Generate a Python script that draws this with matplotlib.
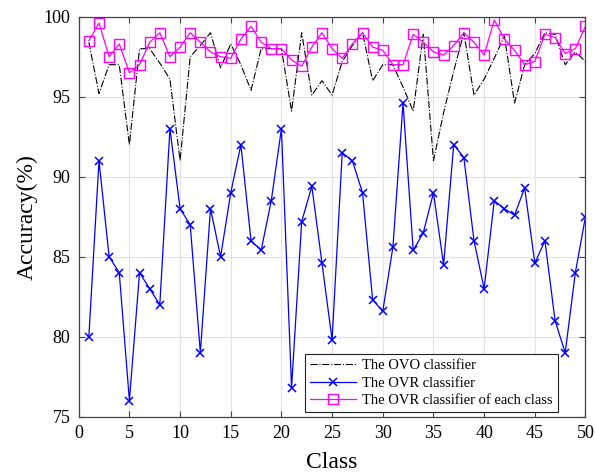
import matplotlib
matplotlib.use("Agg")
import matplotlib.pyplot as plt
import numpy as np

plt.rcParams['font.family'] = ['Liberation Serif', 'DejaVu Serif']
plt.rcParams['mathtext.fontset'] = 'stix'

classes = np.arange(1, 51)

ovo_acc = [98.4, 95.2, 97.0, 97.0, 92.0, 98.0, 98.0, 97.1, 96.1, 91.0,
           97.5, 98.2, 99.0, 96.8, 98.3, 97.0, 95.4, 98.0, 98.0, 98.0,
           94.1, 99.0, 95.1, 96.0, 95.1, 97.2, 98.2, 99.0, 96.0, 97.0,
           97.0, 95.6, 94.1, 98.9, 91.0, 94.0, 96.6, 99.0, 95.1, 96.1,
           97.4, 98.8, 94.6, 97.0, 97.7, 99.0, 98.9, 97.0, 97.8, 97.2]

ovr_acc = [80.0, 91.0, 85.0, 84.0, 76.0, 84.0, 83.0, 82.0, 93.0, 88.0,
           87.0, 79.0, 88.0, 85.0, 89.0, 92.0, 86.0, 85.4, 88.5, 93.0,
           76.8, 87.2, 89.4, 84.6, 79.8, 91.5, 91.0, 89.0, 82.3, 81.6,
           85.6, 94.6, 85.4, 86.5, 89.0, 84.5, 92.0, 91.2, 86.0, 83.0,
           88.5, 88.0, 87.6, 89.3, 84.6, 86.0, 81.0, 79.0, 84.0, 87.5]

ovr_each_acc = [98.5, 99.6, 97.5, 98.3, 96.5, 97.0, 98.4, 99.0, 97.5, 98.1,
                99.0, 98.4, 97.8, 97.5, 97.4, 98.6, 99.4, 98.4, 98.0, 98.0,
                97.3, 96.9, 98.1, 99.0, 98.0, 97.4, 98.3, 99.0, 98.1, 97.9,
                97.0, 97.0, 98.9, 98.4, 97.8, 97.6, 98.2, 99.0, 98.4, 97.6,
                99.8, 98.6, 97.9, 97.0, 97.2, 98.9, 98.7, 97.7, 98.0, 99.4]

series_labels = ['The OVO classifier', 'The OVR classifier',
                 'The OVR classifier of each class']
x_ticks = np.arange(0, 51, 5)
y_ticks = np.arange(75, 101, 5)

fig = plt.figure(figsize=(5.95, 4.75), dpi=100)
ax = fig.add_axes([0.1323, 0.1227, 0.8517, 0.8421])

ax.plot(classes, ovo_acc, color='black', linestyle='-.', linewidth=0.8,
        label=series_labels[0])
ax.plot(classes, ovr_acc, color='#0000ff', linestyle='-', linewidth=0.9,
        marker='x', markersize=5.5, markeredgewidth=1.1, label=series_labels[1])
ax.plot(classes, ovr_each_acc, color='#ff00ff', linestyle='-', linewidth=0.9,
        marker='s', markersize=7, markerfacecolor='none', markeredgewidth=1.0,
        label=series_labels[2])

ax.set_xlim(0, 50)
ax.set_ylim(75, 100)
ax.set_xticks(x_ticks)
ax.set_yticks(y_ticks)
ax.grid(True, color='#e3e3e3', linewidth=0.8)
ax.set_axisbelow(True)

for s in ax.spines.values():
    s.set_color('#444444')
    s.set_linewidth(0.9)
ax.tick_params(direction='in', top=True, right=True, length=4,
               width=0.8, color='#444444', labelsize=13, pad=6)

ax.set_xlabel('Class', fontsize=17, labelpad=7)
ax.set_ylabel('Accuracy(%)', fontsize=17, labelpad=4)

leg = ax.legend(loc='lower right', fontsize=10.5, frameon=True, fancybox=False,
                edgecolor='#222222', framealpha=1, borderaxespad=0.3,
                handlelength=3.15, handletextpad=0.4, labelspacing=0.3,
                borderpad=0.35, bbox_to_anchor=(0.954, 0.0))
leg.get_frame().set_linewidth(0.8)

fig.savefig('out.png', dpi=100)
